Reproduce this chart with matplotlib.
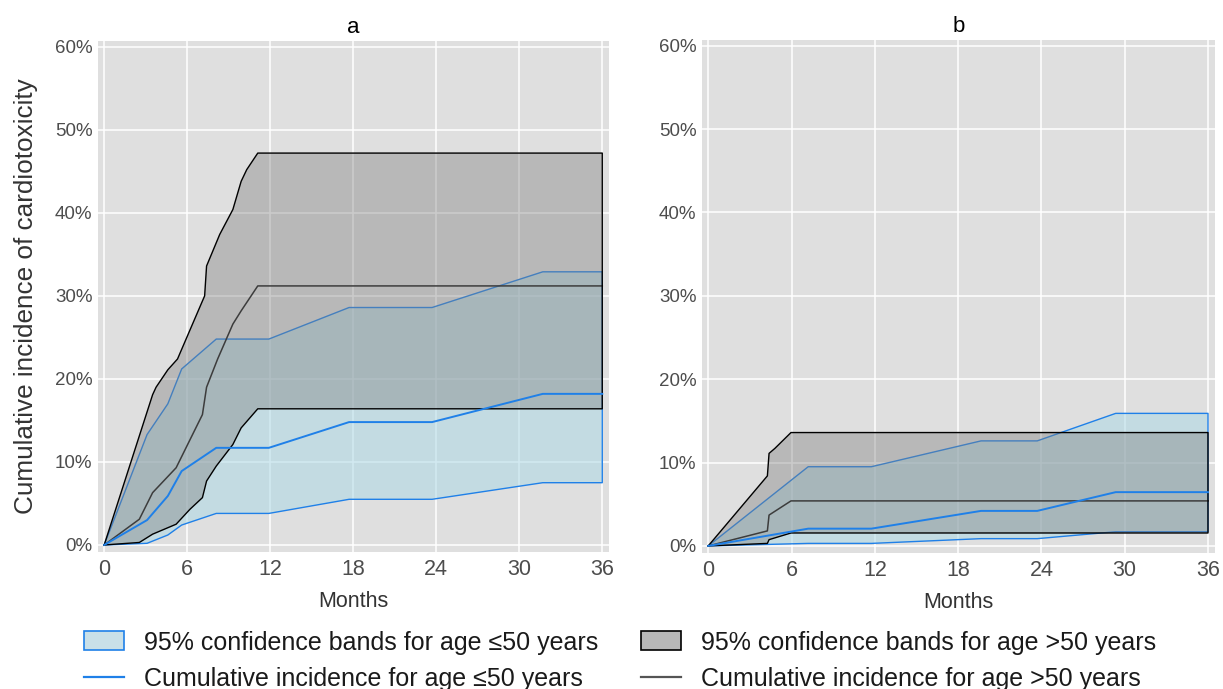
import numpy as np
import matplotlib
matplotlib.use("Agg")
import matplotlib.pyplot as plt
from matplotlib.patches import Patch
from matplotlib.lines import Line2D

plt.rcParams['font.family'] = ['Liberation Sans', 'DejaVu Sans']

# ---------------- data (months, % cumulative incidence) ----------------
# Panel a
a_le_t = [0, 3.1, 4.6, 5.6, 8.1, 11.9, 17.7, 23.7, 31.7, 36]
a_le_upper = [0, 13.3, 17.0, 21.2, 24.8, 24.8, 28.6, 28.6, 32.9, 32.9]
a_le_est = [0, 3.0, 5.9, 8.9, 11.7, 11.7, 14.8, 14.8, 18.2, 18.2]
a_le_lower = [0, 0.2, 1.2, 2.4, 3.8, 3.8, 5.5, 5.5, 7.5, 7.5]

a_gt_upper_t = [0, 3.5, 3.75, 4.6, 5.3, 7.26, 7.4, 8.35, 9.3, 9.9, 10.3, 11.1, 36]
a_gt_upper = [0, 18.1, 19.0, 21.1, 22.4, 30.0, 33.6, 37.4, 40.4, 43.8, 45.2, 47.2, 47.2]
a_gt_est_t = [0, 2.54, 3.5, 5.2, 7.1, 7.4, 8.2, 9.3, 9.9, 11.1, 36]
a_gt_est = [0, 3.1, 6.3, 9.3, 15.7, 19.0, 22.4, 26.6, 28.2, 31.2, 31.2]
a_gt_lower_t = [0, 2.54, 3.5, 5.2, 6.2, 7.1, 7.4, 8.1, 9.3, 9.9, 11.1, 36]
a_gt_lower = [0, 0.3, 1.3, 2.5, 4.3, 5.7, 7.7, 9.5, 12.1, 14.1, 16.4, 16.4]

# Panel b
b_le_t = [0, 7.2, 11.75, 19.65, 23.7, 29.35, 36]
b_le_upper = [0, 9.5, 9.5, 12.6, 12.6, 15.9, 15.9]
b_le_est = [0, 2.07, 2.07, 4.2, 4.2, 6.45, 6.45]
b_le_lower = [0, 0.3, 0.3, 0.87, 0.87, 1.7, 1.7]

b_gt_upper_t = [0, 4.26, 4.38, 4.8, 5.96, 36]
b_gt_upper = [0, 8.4, 11.1, 11.7, 13.6, 13.6]
b_gt_est_t = [0, 4.26, 4.38, 5.96, 36]
b_gt_est = [0, 1.8, 3.7, 5.4, 5.4]
b_gt_lower_t = [0, 4.26, 4.38, 5.96, 36]
b_gt_lower = [0, 0.3, 0.75, 1.55, 1.55]

x_ticks = [0, 6, 12, 18, 24, 30, 36]
y_ticks = [0, 10, 20, 30, 40, 50, 60]
panel_titles = ['a', 'b']
legend_labels = ['95% confidence bands for age \u226450 years',
                 'Cumulative incidence for age \u226450 years',
                 '95% confidence bands for age >50 years',
                 'Cumulative incidence for age >50 years']

# ---------------- style ----------------
BG = '#dfdfdf'
BLUE = '#1f80e8'
BLUE_FILL = '#add8e6'
GRAY_FILL = '#7f7f7f'
TICK_C = '#4d4d4d'

fig = plt.figure(figsize=(12.23, 6.89), dpi=100)
ax_a = fig.add_axes([0.0801, 0.1988, 0.418, 0.7417])
ax_b = fig.add_axes([0.574, 0.1974, 0.4194, 0.7446])


def draw(ax, le_t, le_up, le_est, le_lo, gu_t, gu, ge_t, ge, gl_t, gl, title):
    ax.set_facecolor(BG)
    for s in ax.spines.values():
        s.set_visible(False)
    ax.grid(True, color='white', lw=1.1)
    ax.set_axisbelow(True)
    # blue band
    px = np.concatenate([le_t, le_t[::-1]])
    py = np.concatenate([le_up, le_lo[::-1]])
    ax.fill(px, py, facecolor=BLUE_FILL, alpha=0.55, edgecolor='none', zorder=2)
    ax.plot(px, py, color=BLUE, lw=1.0, zorder=2.1)
    # gray estimate line (under gray fill)
    ax.plot(ge_t, ge, color='#111111', lw=1.1, zorder=2.2)
    # gray band
    gx = np.concatenate([gu_t, gl_t[::-1]])
    gy = np.concatenate([gu, gl[::-1]])
    ax.fill(gx, gy, facecolor=GRAY_FILL, alpha=0.4, edgecolor='none', zorder=3)
    ax.plot(gx, gy, color='black', lw=1.0, zorder=3.1)
    # blue estimate on top
    ax.plot(le_t, le_est, color=BLUE, lw=1.4, zorder=4)
    ax.set_xlim(-0.45, 36.5)
    ax.set_ylim(-0.85, 60.7)
    ax.set_xticks(x_ticks)
    ax.set_yticks(y_ticks)
    ax.set_yticklabels([f'{v}%' for v in y_ticks])
    ax.tick_params(axis='both', length=0, colors=TICK_C)
    ax.tick_params(axis='y', labelsize=13.5, pad=4)
    ax.tick_params(axis='x', labelsize=15.5, pad=5)
    ax.set_xlabel('Months', fontsize=15.5, color='#333333', labelpad=8)
    ax.set_title(title, fontsize=16, color='black', pad=6)


draw(ax_a, a_le_t, a_le_upper, a_le_est, a_le_lower,
     a_gt_upper_t, a_gt_upper, a_gt_est_t, a_gt_est, a_gt_lower_t, a_gt_lower, panel_titles[0])
draw(ax_b, b_le_t, b_le_upper, b_le_est, b_le_lower,
     b_gt_upper_t, b_gt_upper, b_gt_est_t, b_gt_est, b_gt_lower_t, b_gt_lower, panel_titles[1])

ax_a.set_ylabel('Cumulative incidence of cardiotoxicity', fontsize=18.8, color='#333333', labelpad=12)

handles = [
    Patch(facecolor='#c9e0e8', edgecolor=BLUE, lw=1.2),
    Line2D([], [], color=BLUE, lw=1.6),
    Patch(facecolor='#b8b8b8', edgecolor='black', lw=1.2),
    Line2D([], [], color='#555555', lw=1.6),
]
fig.legend(handles, legend_labels, ncol=2, loc='center', bbox_to_anchor=(0.507, 0.041),
           frameon=False, fontsize=18, handlelength=1.6, handleheight=0.8,
           handletextpad=0.8, columnspacing=1.7, labelspacing=0.5, labelcolor='#1a1a1a')

fig.savefig('out.png', dpi=100)
